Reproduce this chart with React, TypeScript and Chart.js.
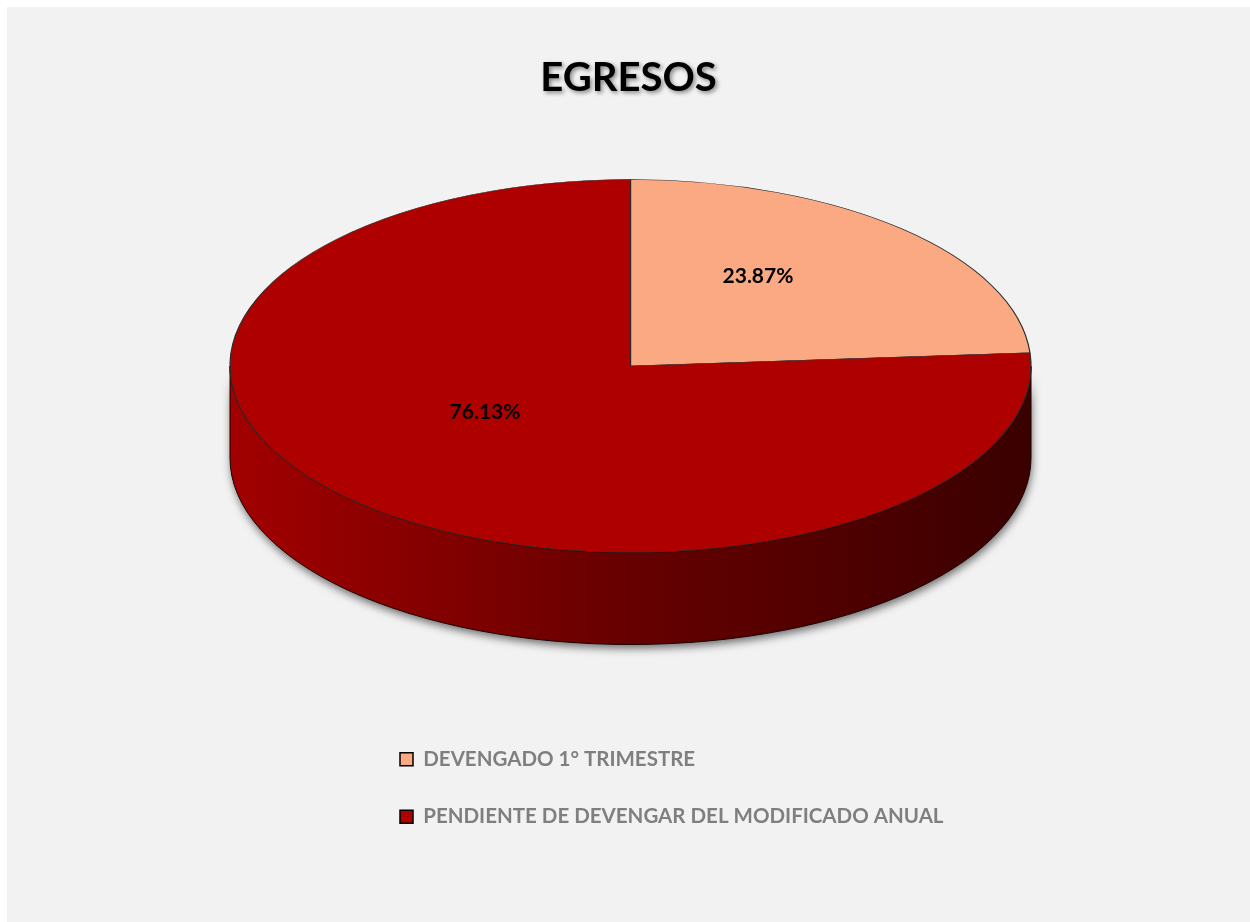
import { useEffect, useRef } from "react";
import { Chart, registerables } from "chart.js";

Chart.register(...registerables);

// ---- data ----
const chartTitle = "EGRESOS";
const categories = ["DEVENGADO 1° TRIMESTRE", "PENDIENTE DE DEVENGAR DEL MODIFICADO ANUAL"];
const shares = [23.87, 76.13];
const sliceColors = ["#FAA982", "#AF0000"];

// ---- styling / projection geometry (canvas px) ----
const FONT = 'Lato, "Open Sans", sans-serif';
const TOP_CX = 623.5;
const TOP_CY = 359;
const TOP_RX = 400.5;
const TOP_RY = 186.5;
const DEPTH = 92;
const LABEL_DX = -9;
const LABEL_DY = -22;

const pie3dPlugin = {
  id: "pie3d",
  beforeLayout(chart: any) {
    // draw the legend after the datasets (so the title shadow does not reach it)
    const lg = chart.legend;
    if (lg) {
      lg._layers = () => [{ z: 1, draw: (ca: any) => lg.draw(ca) }];
    }
  },
  afterLayout(chart: any) {
    // let the (left-aligned) legend rows run past the narrow chart area without being clipped
    const lg = chart.legend;
    if (lg) {
      lg.right = chart.width - 10;
      lg.width = lg.right - lg.left;
    }
  },
  beforeDraw(chart: any) {
    const ctx = chart.ctx;
    ctx.save();
    ctx.shadowColor = "rgba(0,0,0,0.45)";
    ctx.shadowBlur = 4;
    ctx.shadowOffsetX = 2;
    ctx.shadowOffsetY = 2;
  },
  beforeDatasetsDraw(chart: any) {
    const ctx = chart.ctx;
    ctx.restore();
    const arc = chart.getDatasetMeta(0).data[0];
    if (!arc) return;
    const { x, y, outerRadius } = arc;
    const sx = TOP_RX / outerRadius;
    const sy = TOP_RY / outerRadius;

    // side wall (front half extruded)
    ctx.save();
    ctx.beginPath();
    ctx.ellipse(TOP_CX, TOP_CY, TOP_RX, TOP_RY, 0, 0, Math.PI, false);
    ctx.lineTo(TOP_CX - TOP_RX, TOP_CY + DEPTH);
    ctx.ellipse(TOP_CX, TOP_CY + DEPTH, TOP_RX, TOP_RY, 0, Math.PI, 0, true);
    ctx.closePath();
    const g = ctx.createLinearGradient(TOP_CX - TOP_RX, 0, TOP_CX + TOP_RX, 0);
    g.addColorStop(0, "#a20000");
    g.addColorStop(0.5, "#660000");
    g.addColorStop(1, "#3a0000");
    ctx.shadowColor = "rgba(0,0,0,0.55)";
    ctx.shadowBlur = 9;
    ctx.shadowOffsetX = 1;
    ctx.shadowOffsetY = 4;
    ctx.fillStyle = g;
    ctx.fill();
    ctx.shadowColor = "transparent";
    ctx.lineWidth = 1;
    ctx.strokeStyle = "#1a0000";
    ctx.stroke();
    ctx.restore();

    // squash the top face into an ellipse
    ctx.save();
    ctx.translate(TOP_CX, TOP_CY);
    ctx.scale(sx, sy);
    ctx.translate(-x, -y);
  },
  afterDatasetsDraw(chart: any) {
    const ctx = chart.ctx;
    ctx.restore();
    const meta = chart.getDatasetMeta(0);
    const data = chart.data.datasets[0].data as number[];
    const total = data.reduce((a, b) => a + b, 0);
    ctx.save();
    ctx.font = `bold 21px ${FONT}`;
    ctx.textAlign = "center";
    ctx.textBaseline = "middle";
    ctx.fillStyle = "#000";
    meta.data.forEach((el: any, i: number) => {
      const { x, y, outerRadius } = el;
      const p = el.tooltipPosition(false);
      const sx = TOP_RX / outerRadius;
      const sy = TOP_RY / outerRadius;
      const X = TOP_CX + (p.x - x) * sx + LABEL_DX;
      const Y = TOP_CY + (p.y - y) * sy + LABEL_DY;
      ctx.fillText(((data[i] / total) * 100).toFixed(2) + "%", X, Y);
    });
    ctx.restore();
  },
};

export default function App() {
  const ref = useRef<HTMLCanvasElement>(null);
  useEffect(() => {
    if (!ref.current) return;
    const chart = new Chart(ref.current, {
      type: "pie",
      data: {
        labels: categories,
        datasets: [
          {
            data: shares,
            backgroundColor: sliceColors,
            borderColor: "#2a2a2a",
            borderWidth: 0.8,
          },
        ],
      },
      options: {
        responsive: false,
        animation: false,
        events: [],
        layout: { padding: { top: 37, left: 356, right: 356, bottom: 85 } },
        plugins: {
          tooltip: { enabled: false },
          title: {
            display: true,
            text: chartTitle,
            color: "#000",
            font: { family: FONT, size: 40, weight: "bold" },
            padding: { top: 10, bottom: 10 },
          },
          legend: {
            position: "bottom",
            align: "start",
            fullSize: false,
            labels: {
              boxWidth: 13,
              boxHeight: 13,
              padding: 37,
              color: "#7f7f7f",
              font: { family: FONT, size: 20.5, weight: "bold" },
              generateLabels(c: any) {
                const base = (Chart as any).overrides.pie.plugins.legend.labels.generateLabels(c);
                return base.map((it: any) => ({ ...it, strokeStyle: "#000", lineWidth: 1.5, fontColor: "#7f7f7f" }));
              },
            },
          },
        },
      } as any,
      plugins: [pie3dPlugin],
    });
    return () => chart.destroy();
  }, []);

  return (
    <div
      style={{
        position: "absolute",
        left: 7,
        top: 7,
        width: 1243,
        height: 915,
        background: "#f2f2f2",
      }}
    >
      <canvas ref={ref} width={1243} height={915} style={{ display: "block" }} />
    </div>
  );
}
